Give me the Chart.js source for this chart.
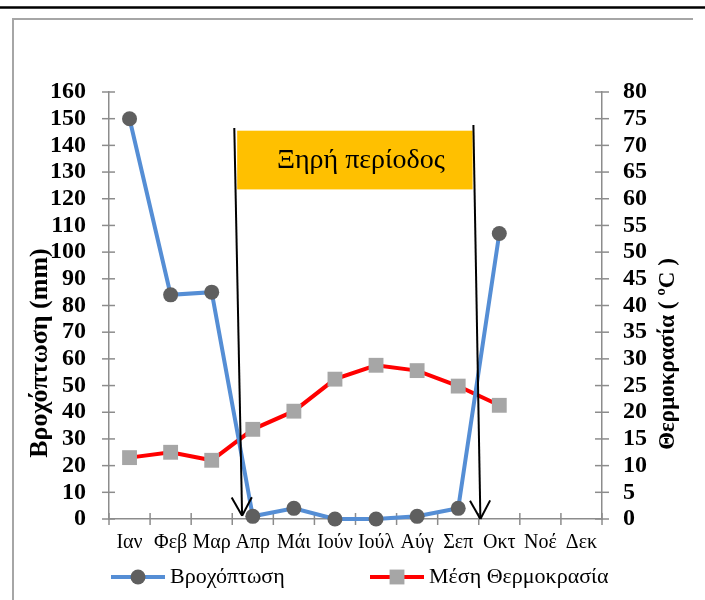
<!DOCTYPE html>
<html>
<head>
<meta charset="utf-8">
<script src="https://cdn.jsdelivr.net/npm/chart.js@4.4.0/dist/chart.umd.min.js"></script>
<style>
  body { margin: 0; background: #fff; }
  canvas { display: block; }
</style>
</head>
<body>
<canvas id="climateChart" width="705" height="600"></canvas>
<script>
// chart data
const months = ['Ιαν', 'Φεβ', 'Μαρ', 'Απρ', 'Μάι', 'Ιούν', 'Ιούλ', 'Αύγ', 'Σεπ', 'Οκτ', 'Νοέ', 'Δεκ'];
const rainfall = [150, 84, 85, 1, 4, 0, 0, 1, 4, 107, null, null];
const temperature = [11.5, 12.5, 11, 16.8, 20.2, 26.2, 28.8, 27.8, 24.9, 21.3, null, null];
const rainTicks = [0, 10, 20, 30, 40, 50, 60, 70, 80, 90, 100, 110, 120, 130, 140, 150, 160];
const tempTicks = [0, 5, 10, 15, 20, 25, 30, 35, 40, 45, 50, 55, 60, 65, 70, 75, 80];

const rainTitle = 'Βροχόπτωση (mm)';
const tempTitle = 'Θερμοκρασία ( ºC )';
const dryLabel = 'Ξηρή περίοδος';

// dry period box and arrows, in axis units (month index, mm)
const dryBox = { from: 2.62, to: 8.35, top: 145.5, bottom: 123.5 };
const dryArrows = [
    { x1: 2.55, y1: 146.5, x2: 2.74, y2: 1.2 },
    { x1: 8.37, y1: 147.6, x2: 8.54, y2: 0 }
];

const axisGray = '#8c8c8c';
const serif = '"Liberation Serif", "Times New Roman", serif';

function line(ctx, x1, y1, x2, y2) {
    ctx.beginPath();
    ctx.moveTo(x1, y1);
    ctx.lineTo(x2, y2);
    ctx.stroke();
}

function arrow(ctx, x1, y1, x2, y2) {
    line(ctx, x1, y1, x2, y2);
    const a = Math.atan2(y2 - y1, x2 - x1);
    const len = 21, spread = 0.5;
    line(ctx, x2, y2, x2 - len * Math.cos(a - spread), y2 - len * Math.sin(a - spread));
    line(ctx, x2, y2, x2 - len * Math.cos(a + spread), y2 - len * Math.sin(a + spread));
}

function drawMarker(ctx, ds, x, y) {
    ctx.fillStyle = ds.pointBackgroundColor;
    if (ds.pointStyle === 'circle') {
        ctx.beginPath();
        ctx.arc(x, y, ds.pointRadius, 0, Math.PI * 2);
        ctx.fill();
    } else {
        const h = ds.pointRadius * Math.SQRT1_2;
        ctx.fillRect(x - h, y - h, h * 2, h * 2);
    }
}

const decorations = {
    id: 'decorations',
    beforeDraw(chart) {
        const ctx = chart.ctx;
        ctx.save();
        ctx.fillStyle = '#fff';
        ctx.fillRect(0, 0, chart.width, chart.height);
        // page rule and frame
        ctx.strokeStyle = '#000';
        ctx.lineWidth = 2.5;
        line(ctx, 0, 7.5, chart.width, 7.5);
        ctx.strokeStyle = '#a6a6a6';
        ctx.lineWidth = 2;
        ctx.beginPath();
        ctx.moveTo(13, chart.height);
        ctx.lineTo(13, 19);
        ctx.lineTo(693, 19);
        ctx.stroke();
        ctx.restore();
    },
    beforeDatasetsDraw(chart) {
        // tick marks crossing the axes
        const ctx = chart.ctx;
        const { x, y, y2 } = chart.scales;
        const area = chart.chartArea;
        ctx.save();
        ctx.strokeStyle = axisGray;
        ctx.lineWidth = 1.5;
        y.ticks.forEach((t, i) => {
            const py = y.getPixelForTick(i);
            line(ctx, area.left - 7, py, area.left + 6, py);
        });
        y2.ticks.forEach((t, i) => {
            const py = y2.getPixelForTick(i);
            line(ctx, area.right - 7, py, area.right + 7, py);
        });
        for (let i = 0; i <= months.length; i++) {
            const px = x.getPixelForValue(i - 0.5);
            line(ctx, px, area.bottom - 6, px, area.bottom + 6);
        }
        ctx.restore();
    },
    afterDatasetsDraw(chart) {
        const ctx = chart.ctx;
        const { x, y } = chart.scales;
        ctx.save();
        // dry period box
        const bx = x.getPixelForValue(dryBox.from);
        const bw = x.getPixelForValue(dryBox.to) - bx;
        const by = y.getPixelForValue(dryBox.top);
        const bh = y.getPixelForValue(dryBox.bottom) - by;
        ctx.fillStyle = '#FFC000';
        ctx.fillRect(bx, by, bw, bh);
        ctx.fillStyle = '#000';
        ctx.font = '28px ' + serif;
        ctx.textAlign = 'center';
        ctx.textBaseline = 'middle';
        ctx.fillText(dryLabel, bx + bw / 2 + 6, by + bh / 2 + 1);
        // arrows
        ctx.strokeStyle = '#000';
        ctx.lineWidth = 2;
        dryArrows.forEach(a => {
            arrow(ctx, x.getPixelForValue(a.x1), y.getPixelForValue(a.y1),
                x.getPixelForValue(a.x2), y.getPixelForValue(a.y2));
        });
        ctx.restore();
    },
    afterDraw(chart) {
        const ctx = chart.ctx;
        const area = chart.chartArea;
        ctx.save();
        // axis titles
        ctx.fillStyle = '#000';
        ctx.textAlign = 'center';
        ctx.textBaseline = 'middle';
        ctx.font = 'bold 26px ' + serif;
        ctx.translate(40, 353);
        ctx.rotate(-Math.PI / 2);
        ctx.fillText(rainTitle, 0, 0);
        ctx.setTransform(1, 0, 0, 1, 0, 0);
        ctx.font = 'bold 23px ' + serif;
        ctx.translate(668, 354);
        ctx.rotate(-Math.PI / 2);
        ctx.fillText(tempTitle, 0, 0);
        ctx.setTransform(1, 0, 0, 1, 0, 0);

        // legend
        const spots = [111, 370];
        const ly = area.bottom + 58;
        chart.data.datasets.forEach((ds, i) => {
            const lx = spots[i];
            ctx.strokeStyle = ds.borderColor;
            ctx.lineWidth = ds.borderWidth;
            line(ctx, lx, ly, lx + 54, ly);
            drawMarker(ctx, ds, lx + 27, ly);
            ctx.fillStyle = '#000';
            ctx.font = '22px ' + serif;
            ctx.textAlign = 'left';
            ctx.fillText(ds.label, lx + 59, ly);
        });
        ctx.restore();
    }
};

document.addEventListener('DOMContentLoaded', function() {
    const ctx = document.getElementById('climateChart').getContext('2d');
    const tickFont = { family: serif, weight: 'bold', size: 24, lineHeight: 1 };

    new Chart(ctx, {
        type: 'line',
        data: {
            labels: months,
            datasets: [{
                label: 'Βροχόπτωση',
                data: rainfall,
                yAxisID: 'y',
                borderColor: '#558ED5',
                borderWidth: 4,
                pointStyle: 'circle',
                pointRadius: 7.5,
                pointBackgroundColor: '#5f5f5f',
                pointBorderWidth: 0,
                clip: false,
                order: 1
            }, {
                label: 'Μέση Θερμοκρασία',
                data: temperature,
                yAxisID: 'y2',
                borderColor: '#FF0000',
                borderWidth: 4,
                pointStyle: 'rect',
                pointRadius: 10.5,
                pointBackgroundColor: '#a6a6a6',
                pointBorderWidth: 0,
                clip: false,
                order: 2
            }]
        },
        options: {
            responsive: false,
            animation: false,
            devicePixelRatio: 1,
            layout: { padding: { left: 0, right: 0, top: 92, bottom: 41 } },
            plugins: {
                legend: { display: false },
                tooltip: { enabled: false }
            },
            scales: {
                x: {
                    offset: true,
                    grid: { display: false, drawTicks: false },
                    border: { color: axisGray, width: 1.5 },
                    afterFit: s => { s.height = 40; },
                    ticks: {
                        padding: 12,
                        color: '#000',
                        maxRotation: 0,
                        autoSkip: false,
                        font: { family: serif, size: 20 }
                    }
                },
                y: {
                    position: 'left',
                    min: 0,
                    max: 160,
                    afterBuildTicks: s => { s.ticks = rainTicks.map(v => ({ value: v })); },
                    afterFit: s => { s.width = 109; },
                    grid: { display: false, drawTicks: false },
                    border: { color: axisGray, width: 1.5 },
                    ticks: { padding: 23, color: '#000', autoSkip: false, font: tickFont }
                },
                y2: {
                    position: 'right',
                    min: 0,
                    max: 80,
                    afterBuildTicks: s => { s.ticks = tempTicks.map(v => ({ value: v })); },
                    afterFit: s => { s.width = 103; },
                    grid: { display: false, drawTicks: false },
                    border: { color: axisGray, width: 1.5 },
                    ticks: { padding: 21, color: '#000', autoSkip: false, font: tickFont }
                }
            }
        },
        plugins: [decorations]
    });
});
</script>
</body>
</html>
